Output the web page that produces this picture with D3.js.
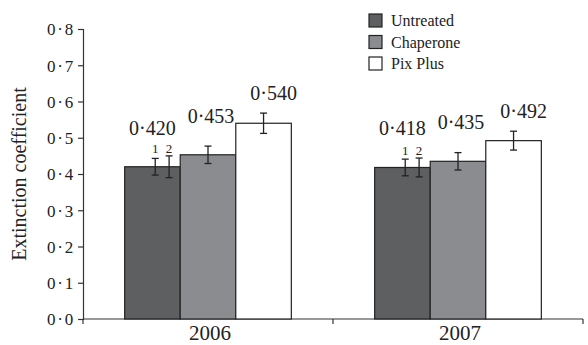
<!DOCTYPE html>
<html>
<head>
  <meta charset="utf-8">
  <script src="https://d3js.org/d3.v7.min.js"></script>
  <style>
    body { margin: 0; background: #fff; }
    svg text { font-family: "Liberation Serif", "Times New Roman", serif; fill: #222; }
  </style>
</head>
<body>
<script>
  // chart data
  var years = ["2006", "2007"];
  var treatments = ["Untreated", "Chaperone", "Pix Plus"];
  var means = [
    [0.420, 0.453, 0.540],
    [0.418, 0.435, 0.492]
  ];
  var valueLabels = [
    ["0·420", "0·453", "0·540"],
    ["0·418", "0·435", "0·492"]
  ];
  // error half-widths; untreated has two error bars (1 and 2)
  var errors = [
    [[0.023, 0.030], [0.024], [0.028]],
    [[0.023, 0.026], [0.024], [0.026]]
  ];
  var yTicks = [0, 0.1, 0.2, 0.3, 0.4, 0.5, 0.6, 0.7, 0.8];
  var yTickLabels = ["0·0", "0·1", "0·2", "0·3", "0·4", "0·5", "0·6", "0·7", "0·8"];

  var colors = ["#5e5f61", "#8b8c8f", "#ffffff"];
  var labelLift = [32, 32, 23];   // label distance above bar top
  var labelShift = [0, 3, 10];    // horizontal nudge
  var errPos = [[0.55, 0.8], [0.5], [0.5]];
  var serif = "Liberation Serif, Times New Roman, serif";

  var W = 588, H = 345;
  var plotLeft = 83, plotRight = 583, plotTop = 29, plotBottom = 319;

  var svg = d3.select("body").append("svg")
      .attr("width", W).attr("height", H);

  var x0 = d3.scaleBand().domain(years).range([plotLeft, plotRight]).padding(0);
  var x1 = d3.scaleBand().domain(treatments).range([0, x0.bandwidth()])
      .paddingInner(0).paddingOuter(0.75);
  var y = d3.scaleLinear().domain([0, 0.8]).range([plotBottom, plotTop]);

  // y axis
  var yAxis = svg.append("g")
      .attr("transform", "translate(" + plotLeft + ",0)")
      .call(d3.axisLeft(y).tickValues(yTicks).tickSize(5).tickPadding(3)
        .tickFormat(function (d, i) { return yTickLabels[i]; }));
  yAxis.attr("font-family", serif);
  yAxis.selectAll("text")
      .style("font-size", "17px")
      .style("letter-spacing", "1.8px")
      .attr("fill", "#222")
      .attr("dy", "0.34em");
  yAxis.select(".domain").attr("stroke", "#333").attr("stroke-width", 1.2);
  yAxis.selectAll(".tick line").attr("stroke", "#333").attr("stroke-width", 1.2);

  // x axis: ticks at band edges, labels at centres
  var xAxis = svg.append("g")
      .attr("transform", "translate(0," + plotBottom + ")");
  xAxis.append("line")
      .attr("x1", plotLeft).attr("x2", plotRight)
      .attr("stroke", "#333").attr("stroke-width", 1.2);
  var edges = years.map(function (d) { return x0(d); })
      .concat([x0(years[years.length - 1]) + x0.bandwidth()]);
  xAxis.selectAll(".xt").data(edges).enter().append("line")
      .attr("x1", function (d) { return d; }).attr("x2", function (d) { return d; })
      .attr("y1", 0).attr("y2", 5)
      .attr("stroke", "#333").attr("stroke-width", 1.2);
  xAxis.selectAll(".xl").data(years).enter().append("text")
      .attr("x", function (d) { return x0(d) + x0.bandwidth() / 2 + 2; })
      .attr("y", 21)
      .attr("text-anchor", "middle")
      .style("font-size", "21px")
      .text(function (d) { return d; });

  // y title
  svg.append("text")
      .attr("transform", "translate(26," + (plotTop + plotBottom) / 2 + ") rotate(-90)")
      .attr("text-anchor", "middle")
      .style("font-size", "20px")
      .text("Extinction coefficient");

  // bars
  years.forEach(function (yr, gi) {
    var g = svg.append("g").attr("transform", "translate(" + x0(yr) + ",0)");
    treatments.forEach(function (t, si) {
      var v = means[gi][si];
      var bx = x1(t), bw = x1.bandwidth();
      g.append("rect")
          .attr("x", bx).attr("y", y(v))
          .attr("width", bw).attr("height", y(0) - y(v))
          .attr("fill", colors[si])
          .attr("stroke", "#222").attr("stroke-width", 1.2);

      var tops = [];
      errors[gi][si].forEach(function (e, k) {
        var ex = bx + bw * errPos[si][k];
        var y1 = y(v + e), y2 = y(v - e);
        tops.push(y1);
        g.append("line").attr("x1", ex).attr("x2", ex).attr("y1", y1).attr("y2", y2)
            .attr("stroke", "#222").attr("stroke-width", 1.3);
        [y1, y2].forEach(function (yy) {
          g.append("line").attr("x1", ex - 3.5).attr("x2", ex + 3.5).attr("y1", yy).attr("y2", yy)
              .attr("stroke", "#222").attr("stroke-width", 1.3);
        });
      });
      if (errors[gi][si].length > 1) {
        var ly = d3.min(tops) - 3;
        errors[gi][si].forEach(function (e, k) {
          g.append("text")
              .attr("x", bx + bw * errPos[si][k])
              .attr("y", ly)
              .attr("text-anchor", "middle")
              .style("font-size", "13px")
              .text(String(k + 1));
        });
      }

      g.append("text")
          .attr("x", bx + bw / 2 + labelShift[si])
          .attr("y", y(v) - labelLift[si])
          .attr("text-anchor", "middle")
          .style("font-size", "20px")
          .text(valueLabels[gi][si]);
    });
  });

  // legend
  var legend = svg.append("g").attr("transform", "translate(369,14)");
  treatments.forEach(function (t, i) {
    legend.append("rect")
        .attr("x", 0).attr("y", i * 21.5)
        .attr("width", 13).attr("height", 13)
        .attr("fill", colors[i]).attr("stroke", "#222").attr("stroke-width", 1.2);
    legend.append("text")
        .attr("x", 22).attr("y", i * 21.5 + 12)
        .style("font-size", "16px")
        .text(t);
  });
</script>
</body>
</html>
